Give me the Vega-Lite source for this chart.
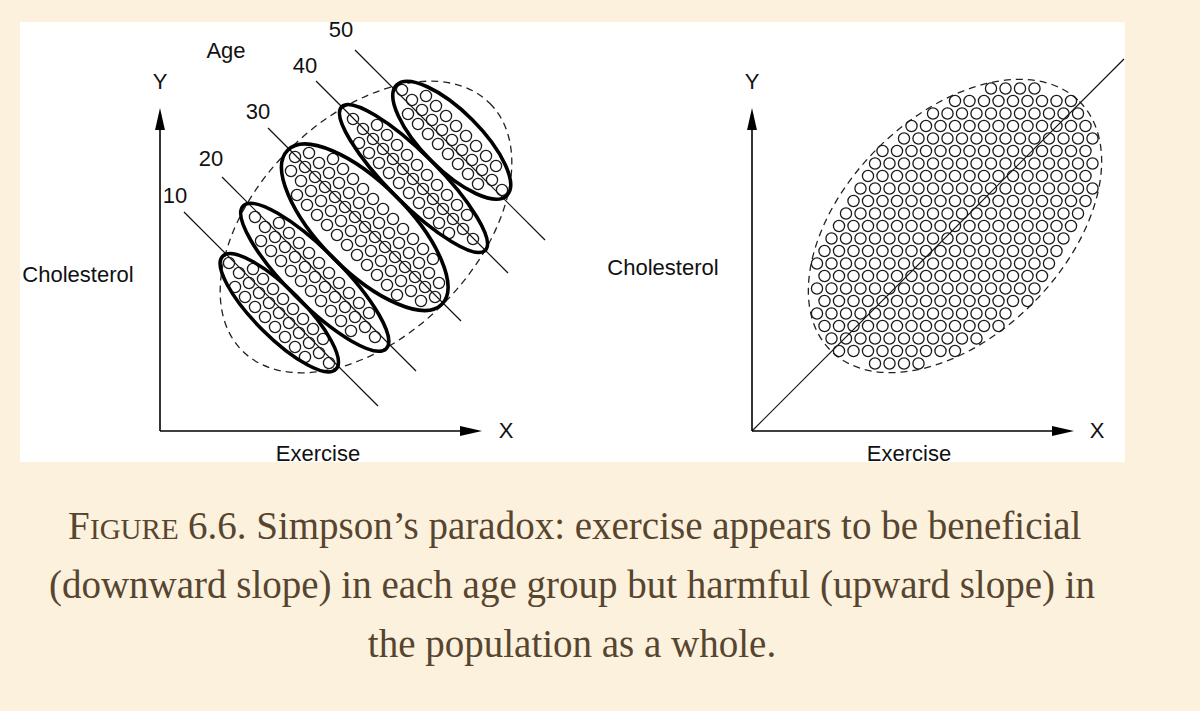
{
"$schema":"https://vega.github.io/schema/vega-lite/v6.json",
"width":1200,"height":711,
"autosize":{"type":"fit","contains":"padding"},
"padding":0,
"background":"#fcf1dd",
"config":{"view":{"stroke":null}},
"datasets":{
"panel":[{"x":20,"y":22,"x2":1125,"y2":462}],
"segments":[
{"k":"ax","x":160,"y":431,"x2":160,"y2":118},
{"k":"ax","x":160,"y":431,"x2":470,"y2":431},
{"k":"ax","x":752,"y":431,"x2":752,"y2":118},
{"k":"ax","x":752,"y":431,"x2":1062,"y2":431},
{"k":"ln","x":184,"y":212,"x2":378,"y2":406},
{"k":"ln","x":222,"y":177,"x2":416,"y2":371},
{"k":"ln","x":268,"y":128,"x2":461,"y2":321},
{"k":"ln","x":316,"y":81,"x2":508,"y2":273},
{"k":"ln","x":355,"y":50,"x2":545,"y2":240},
{"k":"ln","x":752,"y":431,"x2":1124,"y2":59}
],
"ellipses":[
{"g":"E10","x":279.25,"y":312.75,"a":80},
{"g":"E20","x":314.75,"y":277.25,"a":101},
{"g":"E30","x":364.75,"y":227.25,"a":109},
{"g":"E40","x":413.5,"y":178.5,"a":101.5},
{"g":"E50","x":451.75,"y":140.25,"a":78}
],
"outer":[{"x":366,"y":227,"a":175},{"x":955,"y":226,"a":176}],
"arrows":[
{"d":"up","x":160,"y":119},{"d":"up","x":752,"y":119},
{"d":"right","x":471,"y":431},{"d":"right","x":1063,"y":431}
],
"labels":[
{"t":"Y","x":160,"y":82},{"t":"X","x":506,"y":431},{"t":"Cholesterol","x":78,"y":275},{"t":"Exercise","x":318,"y":454},{"t":"Age","x":226,"y":51},
{"t":"10","x":175,"y":196},{"t":"20","x":211,"y":159},{"t":"30","x":258,"y":112},{"t":"40","x":305,"y":66},{"t":"50","x":341,"y":30},
{"t":"Y","x":752,"y":82},{"t":"X","x":1097,"y":431},{"t":"Cholesterol","x":663,"y":268},{"t":"Exercise","x":909,"y":454}
],
"capCenter":[
{"t":"(downward slope) in each age group but harmful (upward slope) in","x":572,"y":598},
{"t":"the population as a whole.","x":572,"y":657}
],
"capLeft":[
{"t":"F","x":68,"y":539},
{"t":"6.6. Simpson’s paradox: exercise appears to be beneficial","x":188,"y":539}
],
"capSmall":[{"t":"IGURE","x":90,"y":539}],
"dots":[
{"x":229,"y":263},{"x":239,"y":273},{"x":249,"y":283},{"x":259,"y":293},{"x":269,"y":303},{"x":279,"y":313},{"x":289,"y":323},{"x":299,"y":333},{"x":309,"y":343},{"x":319,"y":353},{"x":329,"y":363},
{"x":253,"y":269},{"x":263,"y":279},{"x":273,"y":289},{"x":283,"y":299},{"x":293,"y":309},{"x":303,"y":319},{"x":313,"y":329},{"x":323,"y":339},
{"x":235,"y":287},{"x":245,"y":297},{"x":255,"y":307},{"x":265,"y":317},{"x":275,"y":327},{"x":285,"y":337},{"x":295,"y":347},{"x":305,"y":357},
{"x":255,"y":217},{"x":265,"y":227},{"x":275,"y":237},{"x":285,"y":247},{"x":295,"y":257},{"x":305,"y":267},{"x":315,"y":277},{"x":325,"y":287},{"x":335,"y":297},{"x":345,"y":307},{"x":355,"y":317},{"x":365,"y":327},{"x":375,"y":337},
{"x":279,"y":223},{"x":289,"y":233},{"x":299,"y":243},{"x":309,"y":253},{"x":319,"y":263},{"x":329,"y":273},{"x":339,"y":283},{"x":349,"y":293},{"x":359,"y":303},{"x":369,"y":313},
{"x":261,"y":241},{"x":271,"y":251},{"x":281,"y":261},{"x":291,"y":271},{"x":301,"y":281},{"x":311,"y":291},{"x":321,"y":301},{"x":331,"y":311},{"x":341,"y":321},{"x":351,"y":331},
{"x":295,"y":157},{"x":305,"y":167},{"x":315,"y":177},{"x":325,"y":187},{"x":335,"y":197},{"x":345,"y":207},{"x":355,"y":217},{"x":365,"y":227},{"x":375,"y":237},{"x":385,"y":247},{"x":395,"y":257},{"x":405,"y":267},{"x":415,"y":277},{"x":425,"y":287},{"x":435,"y":297},
{"x":309,"y":153},{"x":319,"y":163},{"x":329,"y":173},{"x":339,"y":183},{"x":349,"y":193},{"x":359,"y":203},{"x":369,"y":213},{"x":379,"y":223},{"x":389,"y":233},{"x":399,"y":243},{"x":409,"y":253},{"x":419,"y":263},{"x":429,"y":273},{"x":439,"y":283},
{"x":291,"y":171},{"x":301,"y":181},{"x":311,"y":191},{"x":321,"y":201},{"x":331,"y":211},{"x":341,"y":221},{"x":351,"y":231},{"x":361,"y":241},{"x":371,"y":251},{"x":381,"y":261},{"x":391,"y":271},{"x":401,"y":281},{"x":411,"y":291},{"x":421,"y":301},
{"x":333,"y":159},{"x":343,"y":169},{"x":353,"y":179},{"x":363,"y":189},{"x":373,"y":199},{"x":383,"y":209},{"x":393,"y":219},{"x":403,"y":229},{"x":413,"y":239},{"x":423,"y":249},{"x":433,"y":259},
{"x":297,"y":195},{"x":307,"y":205},{"x":317,"y":215},{"x":327,"y":225},{"x":337,"y":235},{"x":347,"y":245},{"x":357,"y":255},{"x":367,"y":265},{"x":377,"y":275},{"x":387,"y":285},{"x":397,"y":295},
{"x":353,"y":119},{"x":363,"y":129},{"x":373,"y":139},{"x":383,"y":149},{"x":393,"y":159},{"x":403,"y":169},{"x":413,"y":179},{"x":423,"y":189},{"x":433,"y":199},{"x":443,"y":209},{"x":453,"y":219},{"x":463,"y":229},{"x":473,"y":239},
{"x":377,"y":125},{"x":387,"y":135},{"x":397,"y":145},{"x":407,"y":155},{"x":417,"y":165},{"x":427,"y":175},{"x":437,"y":185},{"x":447,"y":195},{"x":457,"y":205},{"x":467,"y":215},
{"x":359,"y":143},{"x":369,"y":153},{"x":379,"y":163},{"x":389,"y":173},{"x":399,"y":183},{"x":409,"y":193},{"x":419,"y":203},{"x":429,"y":213},{"x":439,"y":223},{"x":449,"y":233},
{"x":402,"y":90},{"x":412,"y":100},{"x":422,"y":110},{"x":432,"y":120},{"x":442,"y":130},{"x":452,"y":140},{"x":462,"y":150},{"x":472,"y":160},{"x":482,"y":170},{"x":492,"y":180},{"x":502,"y":190},
{"x":426,"y":96},{"x":436,"y":106},{"x":446,"y":116},{"x":456,"y":126},{"x":466,"y":136},{"x":476,"y":146},{"x":486,"y":156},{"x":496,"y":166},
{"x":408,"y":114},{"x":418,"y":124},{"x":428,"y":134},{"x":438,"y":144},{"x":448,"y":154},{"x":458,"y":164},{"x":468,"y":174},{"x":478,"y":184},
{"x":991,"y":88.5},{"x":1005.5,"y":88.5},{"x":1020,"y":88.5},{"x":1034.5,"y":88.5},
{"x":955,"y":101},{"x":969.5,"y":101},{"x":984,"y":101},{"x":998.5,"y":101},{"x":1013,"y":101},{"x":1027.5,"y":101},{"x":1042,"y":101},{"x":1056.5,"y":101},{"x":1071,"y":101},
{"x":933,"y":113.5},{"x":947.5,"y":113.5},{"x":962,"y":113.5},{"x":976.5,"y":113.5},{"x":991,"y":113.5},{"x":1005.5,"y":113.5},{"x":1020,"y":113.5},{"x":1034.5,"y":113.5},{"x":1049,"y":113.5},{"x":1063.5,"y":113.5},{"x":1078,"y":113.5},
{"x":911.5,"y":126},{"x":926,"y":126},{"x":940.5,"y":126},{"x":955,"y":126},{"x":969.5,"y":126},{"x":984,"y":126},{"x":998.5,"y":126},{"x":1013,"y":126},{"x":1027.5,"y":126},{"x":1042,"y":126},{"x":1056.5,"y":126},{"x":1071,"y":126},{"x":1085.5,"y":126},
{"x":904,"y":138.5},{"x":918.5,"y":138.5},{"x":933,"y":138.5},{"x":947.5,"y":138.5},{"x":962,"y":138.5},{"x":976.5,"y":138.5},{"x":991,"y":138.5},{"x":1005.5,"y":138.5},{"x":1020,"y":138.5},{"x":1034.5,"y":138.5},{"x":1049,"y":138.5},{"x":1063.5,"y":138.5},{"x":1078,"y":138.5},{"x":1092.5,"y":138.5},
{"x":882.5,"y":151},{"x":897,"y":151},{"x":911.5,"y":151},{"x":926,"y":151},{"x":940.5,"y":151},{"x":955,"y":151},{"x":969.5,"y":151},{"x":984,"y":151},{"x":998.5,"y":151},{"x":1013,"y":151},{"x":1027.5,"y":151},{"x":1042,"y":151},{"x":1056.5,"y":151},{"x":1071,"y":151},{"x":1085.5,"y":151},
{"x":875,"y":163.5},{"x":889.5,"y":163.5},{"x":904,"y":163.5},{"x":918.5,"y":163.5},{"x":933,"y":163.5},{"x":947.5,"y":163.5},{"x":962,"y":163.5},{"x":976.5,"y":163.5},{"x":991,"y":163.5},{"x":1005.5,"y":163.5},{"x":1020,"y":163.5},{"x":1034.5,"y":163.5},{"x":1049,"y":163.5},{"x":1063.5,"y":163.5},{"x":1078,"y":163.5},{"x":1092.5,"y":163.5},
{"x":868,"y":176},{"x":882.5,"y":176},{"x":897,"y":176},{"x":911.5,"y":176},{"x":926,"y":176},{"x":940.5,"y":176},{"x":955,"y":176},{"x":969.5,"y":176},{"x":984,"y":176},{"x":998.5,"y":176},{"x":1013,"y":176},{"x":1027.5,"y":176},{"x":1042,"y":176},{"x":1056.5,"y":176},{"x":1071,"y":176},{"x":1085.5,"y":176},
{"x":860.5,"y":188.5},{"x":875,"y":188.5},{"x":889.5,"y":188.5},{"x":904,"y":188.5},{"x":918.5,"y":188.5},{"x":933,"y":188.5},{"x":947.5,"y":188.5},{"x":962,"y":188.5},{"x":976.5,"y":188.5},{"x":991,"y":188.5},{"x":1005.5,"y":188.5},{"x":1020,"y":188.5},{"x":1034.5,"y":188.5},{"x":1049,"y":188.5},{"x":1063.5,"y":188.5},{"x":1078,"y":188.5},{"x":1092.5,"y":188.5},
{"x":853.5,"y":201},{"x":868,"y":201},{"x":882.5,"y":201},{"x":897,"y":201},{"x":911.5,"y":201},{"x":926,"y":201},{"x":940.5,"y":201},{"x":955,"y":201},{"x":969.5,"y":201},{"x":984,"y":201},{"x":998.5,"y":201},{"x":1013,"y":201},{"x":1027.5,"y":201},{"x":1042,"y":201},{"x":1056.5,"y":201},{"x":1071,"y":201},{"x":1085.5,"y":201},
{"x":846,"y":213.5},{"x":860.5,"y":213.5},{"x":875,"y":213.5},{"x":889.5,"y":213.5},{"x":904,"y":213.5},{"x":918.5,"y":213.5},{"x":933,"y":213.5},{"x":947.5,"y":213.5},{"x":962,"y":213.5},{"x":976.5,"y":213.5},{"x":991,"y":213.5},{"x":1005.5,"y":213.5},{"x":1020,"y":213.5},{"x":1034.5,"y":213.5},{"x":1049,"y":213.5},{"x":1063.5,"y":213.5},{"x":1078,"y":213.5},
{"x":839,"y":226},{"x":853.5,"y":226},{"x":868,"y":226},{"x":882.5,"y":226},{"x":897,"y":226},{"x":911.5,"y":226},{"x":926,"y":226},{"x":940.5,"y":226},{"x":955,"y":226},{"x":969.5,"y":226},{"x":984,"y":226},{"x":998.5,"y":226},{"x":1013,"y":226},{"x":1027.5,"y":226},{"x":1042,"y":226},{"x":1056.5,"y":226},{"x":1071,"y":226},
{"x":831.5,"y":238.5},{"x":846,"y":238.5},{"x":860.5,"y":238.5},{"x":875,"y":238.5},{"x":889.5,"y":238.5},{"x":904,"y":238.5},{"x":918.5,"y":238.5},{"x":933,"y":238.5},{"x":947.5,"y":238.5},{"x":962,"y":238.5},{"x":976.5,"y":238.5},{"x":991,"y":238.5},{"x":1005.5,"y":238.5},{"x":1020,"y":238.5},{"x":1034.5,"y":238.5},{"x":1049,"y":238.5},{"x":1063.5,"y":238.5},
{"x":824.5,"y":251},{"x":839,"y":251},{"x":853.5,"y":251},{"x":868,"y":251},{"x":882.5,"y":251},{"x":897,"y":251},{"x":911.5,"y":251},{"x":926,"y":251},{"x":940.5,"y":251},{"x":955,"y":251},{"x":969.5,"y":251},{"x":984,"y":251},{"x":998.5,"y":251},{"x":1013,"y":251},{"x":1027.5,"y":251},{"x":1042,"y":251},{"x":1056.5,"y":251},
{"x":817,"y":263.5},{"x":831.5,"y":263.5},{"x":846,"y":263.5},{"x":860.5,"y":263.5},{"x":875,"y":263.5},{"x":889.5,"y":263.5},{"x":904,"y":263.5},{"x":918.5,"y":263.5},{"x":933,"y":263.5},{"x":947.5,"y":263.5},{"x":962,"y":263.5},{"x":976.5,"y":263.5},{"x":991,"y":263.5},{"x":1005.5,"y":263.5},{"x":1020,"y":263.5},{"x":1034.5,"y":263.5},{"x":1049,"y":263.5},
{"x":824.5,"y":276},{"x":839,"y":276},{"x":853.5,"y":276},{"x":868,"y":276},{"x":882.5,"y":276},{"x":897,"y":276},{"x":911.5,"y":276},{"x":926,"y":276},{"x":940.5,"y":276},{"x":955,"y":276},{"x":969.5,"y":276},{"x":984,"y":276},{"x":998.5,"y":276},{"x":1013,"y":276},{"x":1027.5,"y":276},{"x":1042,"y":276},
{"x":817,"y":288.5},{"x":831.5,"y":288.5},{"x":846,"y":288.5},{"x":860.5,"y":288.5},{"x":875,"y":288.5},{"x":889.5,"y":288.5},{"x":904,"y":288.5},{"x":918.5,"y":288.5},{"x":933,"y":288.5},{"x":947.5,"y":288.5},{"x":962,"y":288.5},{"x":976.5,"y":288.5},{"x":991,"y":288.5},{"x":1005.5,"y":288.5},{"x":1020,"y":288.5},{"x":1034.5,"y":288.5},
{"x":824.5,"y":301},{"x":839,"y":301},{"x":853.5,"y":301},{"x":868,"y":301},{"x":882.5,"y":301},{"x":897,"y":301},{"x":911.5,"y":301},{"x":926,"y":301},{"x":940.5,"y":301},{"x":955,"y":301},{"x":969.5,"y":301},{"x":984,"y":301},{"x":998.5,"y":301},{"x":1013,"y":301},{"x":1027.5,"y":301},
{"x":817,"y":313.5},{"x":831.5,"y":313.5},{"x":846,"y":313.5},{"x":860.5,"y":313.5},{"x":875,"y":313.5},{"x":889.5,"y":313.5},{"x":904,"y":313.5},{"x":918.5,"y":313.5},{"x":933,"y":313.5},{"x":947.5,"y":313.5},{"x":962,"y":313.5},{"x":976.5,"y":313.5},{"x":991,"y":313.5},{"x":1005.5,"y":313.5},
{"x":824.5,"y":326},{"x":839,"y":326},{"x":853.5,"y":326},{"x":868,"y":326},{"x":882.5,"y":326},{"x":897,"y":326},{"x":911.5,"y":326},{"x":926,"y":326},{"x":940.5,"y":326},{"x":955,"y":326},{"x":969.5,"y":326},{"x":984,"y":326},{"x":998.5,"y":326},
{"x":831.5,"y":338.5},{"x":846,"y":338.5},{"x":860.5,"y":338.5},{"x":875,"y":338.5},{"x":889.5,"y":338.5},{"x":904,"y":338.5},{"x":918.5,"y":338.5},{"x":933,"y":338.5},{"x":947.5,"y":338.5},{"x":962,"y":338.5},{"x":976.5,"y":338.5},
{"x":839,"y":351},{"x":853.5,"y":351},{"x":868,"y":351},{"x":882.5,"y":351},{"x":897,"y":351},{"x":911.5,"y":351},{"x":926,"y":351},{"x":940.5,"y":351},{"x":955,"y":351},
{"x":875,"y":363.5},{"x":889.5,"y":363.5},{"x":904,"y":363.5},{"x":918.5,"y":363.5}
]
},
"layer":[
{"data":{"name":"panel"},"mark":{"type":"rect","fill":"#ffffff"},
 "encoding":{"x":{"field":"x","type":"quantitative","scale":{"domain":[0,1200],"nice":false,"zero":false},"axis":null},
  "y":{"field":"y","type":"quantitative","scale":{"domain":[0,711],"nice":false,"zero":false,"reverse":true},"axis":null},
  "x2":{"field":"x2"},"y2":{"field":"y2"}}},
{"data":{"name":"outer"},"mark":{"type":"point","filled":false,"opacity":1,"color":"#222222","strokeWidth":1.3,"strokeDash":[7,5],"angle":-45,
  "shape":"M1,0C1,0.3441 0.5523,0.623 0,0.623C-0.5523,0.623 -1,0.3441 -1,0C-1,-0.3441 -0.5523,-0.623 0,-0.623C0.5523,-0.623 1,-0.3441 1,0Z"},
 "encoding":{"x":{"field":"x","type":"quantitative","scale":{"domain":[0,1200],"nice":false,"zero":false},"axis":null},
  "y":{"field":"y","type":"quantitative","scale":{"domain":[0,711],"nice":false,"zero":false,"reverse":true},"axis":null},
  "size":{"field":"a","type":"quantitative","scale":{"type":"pow","exponent":2,"domain":[0,200],"range":[0,160000]},"legend":null}}},
{"data":{"name":"segments"},"transform":[{"filter":"datum.k == 'ln'"}],"mark":{"type":"rule","color":"#111111","strokeWidth":1.2},
 "encoding":{"x":{"field":"x","type":"quantitative","scale":{"domain":[0,1200],"nice":false,"zero":false},"axis":null},
  "y":{"field":"y","type":"quantitative","scale":{"domain":[0,711],"nice":false,"zero":false,"reverse":true},"axis":null},
  "x2":{"field":"x2"},"y2":{"field":"y2"}}},
{"data":{"name":"dots"},"mark":{"type":"point","shape":"circle","filled":false,"opacity":1,"color":"#1a1a1a","strokeWidth":1.3,"size":125},
 "encoding":{"x":{"field":"x","type":"quantitative","scale":{"domain":[0,1200],"nice":false,"zero":false},"axis":null},
  "y":{"field":"y","type":"quantitative","scale":{"domain":[0,711],"nice":false,"zero":false,"reverse":true},"axis":null}}},
{"data":{"name":"ellipses"},"mark":{"type":"point","filled":false,"opacity":1,"color":"#000000","strokeWidth":3.6,"angle":45},
 "encoding":{"x":{"field":"x","type":"quantitative","scale":{"domain":[0,1200],"nice":false,"zero":false},"axis":null},
  "y":{"field":"y","type":"quantitative","scale":{"domain":[0,711],"nice":false,"zero":false,"reverse":true},"axis":null},
  "shape":{"field":"g","type":"nominal","legend":null,"scale":{"domain":["E10","E20","E30","E40","E50"],"range":[
   "M1,0C1,0.1657 0.5523,0.3 0,0.3C-0.5523,0.3 -1,0.1657 -1,0C-1,-0.1657 -0.5523,-0.3 0,-0.3C0.5523,-0.3 1,-0.1657 1,0Z",
   "M1,0C1,0.1475 0.5523,0.267 0,0.267C-0.5523,0.267 -1,0.1475 -1,0C-1,-0.1475 -0.5523,-0.267 0,-0.267C0.5523,-0.267 1,-0.1475 1,0Z",
   "M1,0C1,0.2231 0.5523,0.404 0,0.404C-0.5523,0.404 -1,0.2231 -1,0C-1,-0.2231 -0.5523,-0.404 0,-0.404C0.5523,-0.404 1,-0.2231 1,0Z",
   "M1,0C1,0.1359 0.5523,0.246 0,0.246C-0.5523,0.246 -1,0.1359 -1,0C-1,-0.1359 -0.5523,-0.246 0,-0.246C0.5523,-0.246 1,-0.1359 1,0Z",
   "M1,0C1,0.2055 0.5523,0.372 0,0.372C-0.5523,0.372 -1,0.2055 -1,0C-1,-0.2055 -0.5523,-0.372 0,-0.372C0.5523,-0.372 1,-0.2055 1,0Z"]}},
  "size":{"field":"a","type":"quantitative","scale":{"type":"pow","exponent":2,"domain":[0,200],"range":[0,160000]},"legend":null}}},
{"data":{"name":"segments"},"transform":[{"filter":"datum.k == 'ax'"}],"mark":{"type":"rule","color":"#000000","strokeWidth":1.6},
 "encoding":{"x":{"field":"x","type":"quantitative","scale":{"domain":[0,1200],"nice":false,"zero":false},"axis":null},
  "y":{"field":"y","type":"quantitative","scale":{"domain":[0,711],"nice":false,"zero":false,"reverse":true},"axis":null},
  "x2":{"field":"x2"},"y2":{"field":"y2"}}},
{"data":{"name":"arrows"},"transform":[{"filter":"datum.d == 'up'"}],"mark":{"type":"point","filled":true,"opacity":1,"color":"#000000","size":484,"shape":"M0,-1L0.45,1L-0.45,1Z"},
 "encoding":{"x":{"field":"x","type":"quantitative","scale":{"domain":[0,1200],"nice":false,"zero":false},"axis":null},
  "y":{"field":"y","type":"quantitative","scale":{"domain":[0,711],"nice":false,"zero":false,"reverse":true},"axis":null}}},
{"data":{"name":"arrows"},"transform":[{"filter":"datum.d == 'right'"}],"mark":{"type":"point","filled":true,"opacity":1,"color":"#000000","size":484,"angle":90,"shape":"M0,-1L0.45,1L-0.45,1Z"},
 "encoding":{"x":{"field":"x","type":"quantitative","scale":{"domain":[0,1200],"nice":false,"zero":false},"axis":null},
  "y":{"field":"y","type":"quantitative","scale":{"domain":[0,711],"nice":false,"zero":false,"reverse":true},"axis":null}}},
{"data":{"name":"labels"},"mark":{"type":"text","font":"Liberation Sans","fontSize":22,"color":"#111111","align":"center","baseline":"middle"},
 "encoding":{"x":{"field":"x","type":"quantitative","scale":{"domain":[0,1200],"nice":false,"zero":false},"axis":null},
  "y":{"field":"y","type":"quantitative","scale":{"domain":[0,711],"nice":false,"zero":false,"reverse":true},"axis":null},
  "text":{"field":"t"}}},
{"data":{"name":"capCenter"},"mark":{"type":"text","font":"Liberation Serif","fontSize":39,"color":"#57452f","align":"center","baseline":"alphabetic"},
 "encoding":{"x":{"field":"x","type":"quantitative","scale":{"domain":[0,1200],"nice":false,"zero":false},"axis":null},
  "y":{"field":"y","type":"quantitative","scale":{"domain":[0,711],"nice":false,"zero":false,"reverse":true},"axis":null},
  "text":{"field":"t"}}},
{"data":{"name":"capLeft"},"mark":{"type":"text","font":"Liberation Serif","fontSize":39,"color":"#57452f","align":"left","baseline":"alphabetic"},
 "encoding":{"x":{"field":"x","type":"quantitative","scale":{"domain":[0,1200],"nice":false,"zero":false},"axis":null},
  "y":{"field":"y","type":"quantitative","scale":{"domain":[0,711],"nice":false,"zero":false,"reverse":true},"axis":null},
  "text":{"field":"t"}}},
{"data":{"name":"capSmall"},"mark":{"type":"text","font":"Liberation Serif","fontSize":29,"color":"#57452f","align":"left","baseline":"alphabetic"},
 "encoding":{"x":{"field":"x","type":"quantitative","scale":{"domain":[0,1200],"nice":false,"zero":false},"axis":null},
  "y":{"field":"y","type":"quantitative","scale":{"domain":[0,711],"nice":false,"zero":false,"reverse":true},"axis":null},
  "text":{"field":"t"}}}
]
}
